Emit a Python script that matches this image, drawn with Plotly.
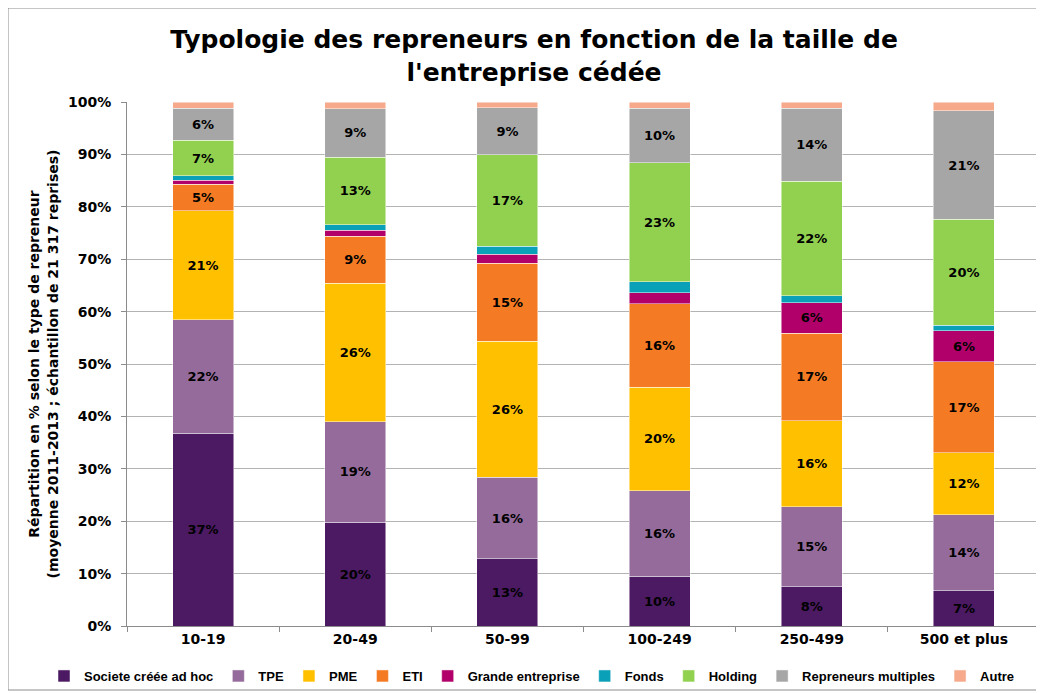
import plotly.graph_objects as go

categories = ["10-19", "20-49", "50-99", "100-249", "250-499", "500 et plus"]

series_names = ["Societe créée ad hoc", "TPE", "PME", "ETI", "Grande entreprise",
                "Fonds", "Holding", "Repreneurs multiples", "Autre"]

societe = [36.8, 19.8, 12.8, 9.5, 7.5, 6.7]
tpe = [21.6, 19.2, 15.6, 16.3, 15.3, 14.5]
pme = [20.8, 26.4, 25.9, 19.8, 16.4, 11.9]
eti = [5.1, 9.0, 14.9, 15.9, 16.7, 17.3]
grande = [0.8, 1.1, 1.7, 2.1, 5.8, 5.9]
fonds = [0.8, 1.1, 1.6, 2.1, 1.3, 1.1]
holding = [6.8, 12.9, 17.4, 22.7, 21.9, 20.2]
repreneurs = [6.1, 9.2, 9.0, 10.4, 13.9, 20.7]
autre = [1.2, 1.3, 1.1, 1.2, 1.2, 1.7]

y_ticks = list(range(0, 101, 10))
y_tick_labels = [f"{t}%" for t in y_ticks]

colors = ["#4B1A62", "#946B9B", "#FFC000", "#F47B23", "#B1006A",
          "#0AA0B8", "#92D050", "#A6A6A6", "#F6A98B"]

all_series = [societe, tpe, pme, eti, grande, fonds, holding, repreneurs, autre]

FONT = "DejaVu Sans"
LEG_FONT = "Liberation Sans"

fig = go.Figure()
for name, vals, col in zip(series_names, all_series, colors):
    txt = [f"{round(v)}%" if v >= 4.5 else "" for v in vals]
    fig.add_trace(go.Bar(
        x=categories, y=vals, name=name,
        marker=dict(color=col, line=dict(color="rgba(255,255,255,0.6)", width=0.8)),
        text=txt, textposition="inside", insidetextanchor="middle", textangle=0,
        textfont=dict(family=FONT, size=13, color="black", weight="bold"),
        hoverinfo="skip",
    ))

# page body has an 8px margin: figure is drawn 8px right/down of the window origin
OFF = 8
W, H = 1044 - OFF, 693 - OFF
L = 127 - OFF
T = 102 - OFF
R = W - (1040 - OFF)
B = H - (626 - OFF)
pw = W - L - R
ph = H - T - B

def px(X):
    return (X - OFF - L) / pw

def py(Y):
    return (H - B - (Y - OFF)) / ph

fig.update_layout(
    width=W, height=H,
    barmode="stack", bargap=0.6,
    margin=dict(l=L, r=R, t=T, b=B, autoexpand=False),
    paper_bgcolor="white", plot_bgcolor="white",
    font=dict(family=FONT, color="black"),
    title=dict(
        text="Typologie des repreneurs en fonction de la taille de<br>l'entreprise cédée",
        x=px(534), xref="paper", xanchor="center",
        yref="container", y=1 - (48 - OFF) / H, yanchor="middle",
        font=dict(family=FONT, size=25, color="black", weight="bold"),
    ),
    xaxis=dict(
        type="category", showgrid=False, showline=True, linecolor="#8c8c8c",
        ticks="outside", tickson="boundaries", ticklen=5, tickcolor="#8c8c8c",
        tickfont=dict(family=FONT, size=14, color="black", weight="bold"),
        automargin=False,
    ),
    yaxis=dict(
        range=[0, 100], tickvals=y_ticks, ticktext=y_tick_labels,
        showgrid=True, gridcolor="#b3b3b3", gridwidth=1,
        showline=True, linecolor="#8c8c8c", ticks="outside", ticklen=5,
        tickcolor="#8c8c8c", ticklabelstandoff=7,
        tickfont=dict(family=FONT, size=14, color="black", weight="bold"),
        title=dict(
            text="Répartition en % selon le type de repreneur<br>(moyenne 2011-2013 ; échantillon de 21 317 reprises)",
            font=dict(family=FONT, size=14, color="black", weight="bold"),
            standoff=6,
        ),
        zeroline=False, automargin=False,
    ),
    legend=dict(
        orientation="h", x=px(44), xanchor="left",
        y=py(676), yanchor="middle",
        bgcolor="rgba(0,0,0,0)",
        font=dict(family=LEG_FONT, size=13, color="black", weight="bold"),
        traceorder="normal", itemwidth=30,
        tracegroupgap=0,
    ),
    shapes=[dict(
        type="rect", xref="paper", yref="paper",
        x0=px(OFF), x1=px(1040), y0=py(690), y1=py(OFF),
        line=dict(color="#8c8c8c", width=1), layer="below",
    )],
    showlegend=True,
)

fig.write_html("out.html")
